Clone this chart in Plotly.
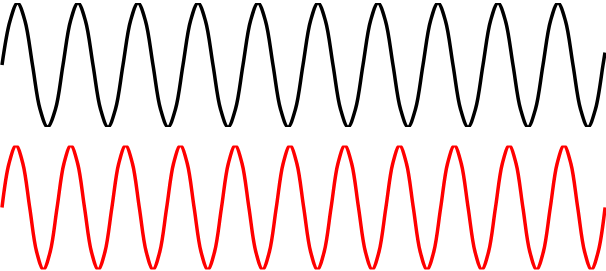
import plotly.graph_objects as go
from plotly.subplots import make_subplots

# Upper (black) wave: points (time, value)
black_t = [2, 10, 17.5, 25, 32.5, 40, 47.5, 55.5, 63, 70.5, 78, 85.5, 93, 100.5,
           108, 115.5, 123, 130.5, 138, 145.5, 153, 160.5, 168, 175.5, 183,
           190.5, 198, 205.5, 213, 220.5, 228, 235.5, 243, 250.5, 258, 265.5,
           273, 280.5, 288, 295.5, 303, 310.5, 318, 325.5, 333, 340.5, 348,
           355.5, 363, 370.5, 378, 385.5, 393, 400.5, 408, 415.5, 423, 430.5,
           438, 445.5, 453, 460.5, 468, 475.5, 483, 490.5, 498, 505.5, 513,
           520.5, 528, 535.5, 543, 550.5, 558, 565.5, 573, 580.5, 588, 595.5,
           603, 605]
black_v = [0, 0.71,
           1, 0.71, 0, -0.71, -1, -0.71, 0, 0.71,
           1, 0.71, 0, -0.71, -1, -0.71, 0, 0.71,
           1, 0.71, 0, -0.71, -1, -0.71, 0, 0.71,
           1, 0.71, 0, -0.71, -1, -0.71, 0, 0.71,
           1, 0.71, 0, -0.71, -1, -0.71, 0, 0.71,
           1, 0.71, 0, -0.71, -1, -0.71, 0, 0.71,
           1, 0.71, 0, -0.71, -1, -0.71, 0, 0.71,
           1, 0.71, 0, -0.71, -1, -0.71, 0, 0.71,
           1, 0.71, 0, -0.71, -1, -0.71, 0, 0.71,
           1, 0.71, 0, -0.71, -1, -0.71, 0,
           0.2]

# Lower (red) wave: points (time, value)
red_t = [2.0, 9.0,
         16.00, 22.85, 29.70, 36.55, 43.40, 50.25, 57.10, 63.95, 70.80, 77.65,
         84.50, 91.35, 98.20, 105.05, 111.90, 118.75, 125.60, 132.45, 139.30,
         146.15, 153.00, 159.85, 166.70, 173.55, 180.40, 187.25, 194.10,
         200.95, 207.80, 214.65, 221.50, 228.35, 235.20, 242.05, 248.90,
         255.75, 262.60, 269.45, 276.30, 283.15, 290.00, 296.85, 303.70,
         310.55, 317.40, 324.25, 331.10, 337.95, 344.80, 351.65, 358.50,
         365.35, 372.20, 379.05, 385.90, 392.75, 399.60, 406.45, 413.30,
         420.15, 427.00, 433.85, 440.70, 447.55, 454.40, 461.25, 468.10,
         474.95, 481.80, 488.65, 495.50, 502.35, 509.20, 516.05, 522.90,
         529.75, 536.60, 543.45, 550.30, 557.15, 564.00, 570.85, 577.70,
         584.55, 591.40, 598.25, 605.10]
red_v = [0, 0.71,
         1, 0.71, 0, -0.71, -1, -0.71, 0, 0.71,
         1, 0.71, 0, -0.71, -1, -0.71, 0, 0.71,
         1, 0.71, 0, -0.71, -1, -0.71, 0, 0.71,
         1, 0.71, 0, -0.71, -1, -0.71, 0, 0.71,
         1, 0.71, 0, -0.71, -1, -0.71, 0, 0.71,
         1, 0.71, 0, -0.71, -1, -0.71, 0, 0.71,
         1, 0.71, 0, -0.71, -1, -0.71, 0, 0.71,
         1, 0.71, 0, -0.71, -1, -0.71, 0, 0.71,
         1, 0.71, 0, -0.71, -1, -0.71, 0, 0.71,
         1, 0.71, 0, -0.71, -1, -0.71, 0, 0.71,
         1, 0.71, 0, -0.71, -1, -0.71, 0]

fig = make_subplots(rows=2, cols=1)
fig.add_trace(go.Scatter(x=black_t, y=black_v, mode="lines",
                         line=dict(color="black", width=3.5, shape="spline", smoothing=1.0)),
              row=1, col=1)
fig.add_trace(go.Scatter(x=red_t, y=red_v, mode="lines",
                         line=dict(color="red", width=3.5, shape="spline", smoothing=1.0)),
              row=2, col=1)

H = 271
fig.update_layout(
    width=606, height=H,
    margin=dict(l=0, r=0, t=0, b=0),
    paper_bgcolor="white", plot_bgcolor="white",
    showlegend=False,
    xaxis=dict(range=[0, 606], visible=False, domain=[0, 1]),
    xaxis2=dict(range=[0, 606], visible=False, domain=[0, 1]),
    yaxis=dict(range=[-1, 1], visible=False, domain=[1 - 127 / H, 1 - 3 / H]),
    yaxis2=dict(range=[-1, 1], visible=False, domain=[1 - 269.5 / H, 1 - 145.5 / H]),
)

fig.write_html("out.html")
